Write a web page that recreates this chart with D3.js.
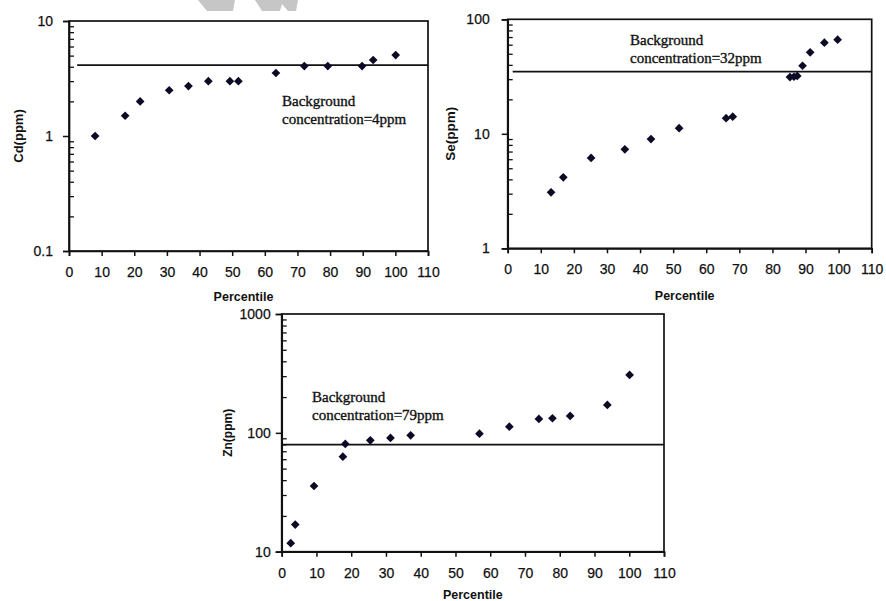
<!DOCTYPE html>
<html>
<head>
<meta charset="utf-8">
<script src="https://cdn.jsdelivr.net/npm/d3@7"></script>
<style>
  body { margin: 0; background: #fff; }
  svg { display: block; }
  .tick text { font-family: "Liberation Sans", Arial, sans-serif; fill: #111; stroke: #111; stroke-width: 0.25px; }
  .axis-title { font-family: "Liberation Sans", Arial, sans-serif; font-weight: bold; fill: #111; }
  .note { font-family: "Liberation Serif", "Times New Roman", serif; fill: #111; stroke: #111; stroke-width: 0.35px; }
</style>
</head>
<body>
<svg id="chart" width="886" height="601"></svg>
<script>
// percentile vs concentration
const cdPercentile = [8, 17.2, 21.8, 30.7, 36.6, 42.7, 49.3, 51.9, 63.4, 72.1, 79.3, 89.8, 93.2, 100.1];
const cdValues = [1.0, 1.5, 2.0, 2.5, 2.72, 3.0, 3.0, 3.0, 3.53, 4.06, 4.06, 4.06, 4.58, 5.06];

const sePercentile = [13.1, 16.8, 25.2, 35.4, 43.3, 51.8, 66.0, 68.0, 85.3, 86.5, 87.5, 89.1, 91.4, 95.7, 99.7];
const seValues = [3.08, 4.17, 6.15, 7.32, 9.0, 11.2, 13.7, 14.1, 31.3, 31.5, 32.0, 39.3, 51.5, 62.5, 66.4];

const znPercentile = [2.6, 3.9, 9.3, 17.6, 18.3, 25.5, 31.3, 37.1, 56.9, 65.5, 74.0, 77.9, 83.0, 93.7, 100.1];
const znValues = [11.8, 16.9, 35.7, 63, 80.6, 86.6, 90.6, 95.4, 98.4, 112.7, 130.9, 132.7, 138.8, 171.7, 307];

// background lines: [start percentile, level]
const cdBackground = [2.5, 4.14];
const seBackground = [1.5, 34.9];
const znBackground = [0, 79.5];

const xTicks = [0, 10, 20, 30, 40, 50, 60, 70, 80, 90, 100, 110];
const cdTicks = [0.1, 1, 10];
const seTicks = [1, 10, 100];
const znTicks = [10, 100, 1000];

const cdNote = ['Background', 'concentration=4ppm'];
const seNote = ['Background', 'concentration=32ppm'];
const znNote = ['Background', 'concentration=79ppm'];

const svg = d3.select('#chart');

// faint watermark at the top
const wm = svg.append('g').attr('fill', '#c6c6c6');
wm.append('path').attr('d', 'M198,0 L235,0 L233,11 L207,11 Z');
wm.append('path').attr('d', 'M255,0 L298,0 L296,11 L288,11 L282,4 L280,11 L262,11 Z');

function panel (opts) {
  const g = svg.append('g');
  const x = d3.scaleLinear().domain([0, 110]).range([opts.left, opts.right]);
  const y = d3.scaleLog().domain(opts.yDomain).range([opts.bottom, opts.top]);

  // frame
  g.append('rect')
    .attr('x', opts.left).attr('y', opts.top)
    .attr('width', opts.right - opts.left).attr('height', opts.bottom - opts.top)
    .attr('fill', 'none').attr('stroke', '#111').attr('stroke-width', 1.7);

  // minor y ticks point inside
  const minors = y.ticks().filter(v => opts.yTicks.indexOf(v) < 0);
  g.append('g')
    .attr('transform', 'translate(' + opts.left + ',0)')
    .call(d3.axisLeft(y).tickValues(minors).tickSize(-5).tickFormat(''))
    .call(s => s.select('.domain').remove())
    .selectAll('line').attr('stroke', '#111').attr('stroke-width', 1.3);

  const yAxis = g.append('g')
    .attr('transform', 'translate(' + opts.left + ',0)')
    .call(d3.axisLeft(y).tickValues(opts.yTicks).tickSize(6).tickPadding(opts.yPad)
      .tickFormat(d3.format('~g')));
  yAxis.select('.domain').attr('stroke', '#111').attr('stroke-width', 1.7);
  yAxis.selectAll('line').attr('stroke', '#111').attr('stroke-width', 1.5);
  yAxis.selectAll('text').style('font-size', '14px');

  const xAxis = g.append('g')
    .attr('transform', 'translate(0,' + opts.bottom + ')')
    .call(d3.axisBottom(x).tickValues(xTicks).tickSize(5).tickPadding(11));
  xAxis.select('.domain').attr('stroke', '#111').attr('stroke-width', 1.7);
  xAxis.selectAll('line').attr('stroke', '#111').attr('stroke-width', 1.5);
  xAxis.selectAll('text').style('font-size', '14px');

  g.append('text').attr('class', 'axis-title')
    .attr('x', (opts.left + opts.right) / 2 + opts.titleShift)
    .attr('y', opts.bottom + opts.titleGap)
    .attr('text-anchor', 'middle').attr('dy', '0.35em')
    .style('font-size', '12.5px')
    .text('Percentile');

  g.append('text').attr('class', 'axis-title')
    .attr('transform', 'translate(' + opts.yTitleX + ',' + (opts.top + opts.bottom) / 2 + ') rotate(-90)')
    .attr('text-anchor', 'middle').attr('dy', '0.35em')
    .style('font-size', opts.yTitleSize)
    .text(opts.yTitle);

  // background concentration line
  g.append('line')
    .attr('x1', x(opts.background[0])).attr('x2', x(110))
    .attr('y1', y(opts.background[1])).attr('y2', y(opts.background[1]))
    .attr('stroke', '#111').attr('stroke-width', 1.7);

  const note = g.append('text').attr('class', 'note')
    .attr('x', opts.noteX).attr('y', opts.noteY)
    .style('font-size', '15px');
  opts.note.forEach((line, i) => {
    note.append('tspan').attr('x', opts.noteX).attr('dy', i === 0 ? 0 : 17.5).text(line);
  });

  const marker = d3.symbol().type(d3.symbolSquare).size(38);
  g.append('g').selectAll('path')
    .data(opts.xs.map((v, i) => [v, opts.ys[i]]))
    .join('path')
    .attr('d', marker)
    .attr('fill', '#0b0b26')
    .attr('transform', d => 'translate(' + x(d[0]) + ',' + y(d[1]) + ') rotate(45)');
}

panel({
  left: 69, right: 428, top: 21, bottom: 251,
  yDomain: [0.1, 10], yTicks: cdTicks, yPad: 10,
  xs: cdPercentile, ys: cdValues, background: cdBackground,
  yTitle: 'Cd(ppm)', yTitleX: 18, yTitleSize: '13px', titleGap: 46, titleShift: -5,
  note: cdNote, noteX: 282, noteY: 106
});

panel({
  left: 507.7, right: 871.7, top: 19.3, bottom: 248.3,
  yDomain: [1, 100], yTicks: seTicks, yPad: 12,
  xs: sePercentile, ys: seValues, background: seBackground,
  yTitle: 'Se(ppm)', yTitleX: 450, yTitleSize: '13.5px', titleGap: 47, titleShift: -5,
  note: seNote, noteX: 630, noteY: 45
});

panel({
  left: 281.7, right: 664, top: 314, bottom: 551.7,
  yDomain: [10, 1000], yTicks: znTicks, yPad: 5,
  xs: znPercentile, ys: znValues, background: znBackground,
  yTitle: 'Zn(ppm)', yTitleX: 228, yTitleSize: '12px', titleGap: 43, titleShift: 0,
  note: znNote, noteX: 312, noteY: 402
});
</script>
</body>
</html>
